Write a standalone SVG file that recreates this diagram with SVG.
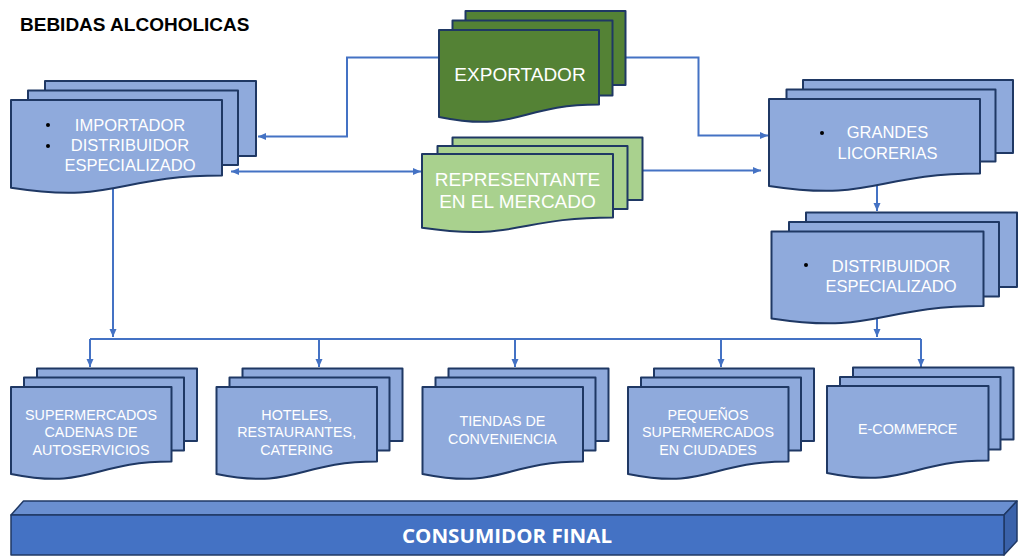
<svg xmlns="http://www.w3.org/2000/svg" width="1027" height="556" viewBox="0 0 1027 556">
<style>
.blue{fill:#8FAADC;stroke:#1F3864;stroke-width:2;stroke-linejoin:round}
.dg{fill:#548235;stroke:#1F3864;stroke-width:2;stroke-linejoin:round}
.lg{fill:#A9D18E;stroke:#1F3864;stroke-width:2;stroke-linejoin:round}
.t{font-family:"Liberation Sans",Arial,sans-serif;fill:#FFFFFF;text-anchor:middle}
.m{font-size:16.5px}
.l{font-size:19px}
.s{font-size:14.3px}
.bul{fill:#000000}
.c{fill:none;stroke:#4472C4;stroke-width:2}
.title{font-family:"Liberation Sans",Arial,sans-serif;font-weight:bold;font-size:19px;fill:#000000}
.bar{stroke:#1F3864;stroke-width:1.5;stroke-linejoin:round}
</style>
<defs>
<marker id="ah" markerUnits="userSpaceOnUse" markerWidth="9" markerHeight="8" refX="8" refY="4" orient="auto-start-reverse">
<path d="M0,0.5 L8,4 L0,7.5 Z" fill="#4472C4"/>
</marker>
</defs>
<rect width="1027" height="556" fill="#FFFFFF"/>
<text class="title" x="20" y="30.5">BEBIDAS ALCOHOLICAS</text>

<g id="connectors">
<path class="c" d="M439,57.5 H347 V136.5 H258" marker-end="url(#ah)"/>
<path class="c" d="M625,57.5 H698.5 V135.5 H768" marker-end="url(#ah)"/>
<path class="c" d="M231,171.5 H421" marker-start="url(#ah)" marker-end="url(#ah)"/>
<path class="c" d="M642,170.5 H761" marker-end="url(#ah)"/>
<path class="c" d="M113,185 V337" marker-end="url(#ah)"/>
<path class="c" d="M877,183 V211" marker-end="url(#ah)"/>
<path class="c" d="M877,310 V337" marker-end="url(#ah)"/>
<path class="c" d="M90,339 H921"/>
<path class="c" d="M90,339 V367" marker-end="url(#ah)"/>
<path class="c" d="M319,339 V367" marker-end="url(#ah)"/>
<path class="c" d="M515,339 V367" marker-end="url(#ah)"/>
<path class="c" d="M721,339 V367" marker-end="url(#ah)"/>
<path class="c" d="M921,339 V367" marker-end="url(#ah)"/>
</g>

<g id="importador">
<rect class="blue" x="45" y="81" width="211" height="75"/>
<rect class="blue" x="28" y="90.5" width="210" height="74.5"/>
<path class="blue" d="M11,100 H222 V175.4 C116.5,175.4 116.5,204 11,187.8 Z"/>
<circle class="bul" cx="48" cy="125" r="2"/>
<circle class="bul" cx="48" cy="146" r="2"/>
<text class="t m" x="130" y="131">IMPORTADOR</text>
<text class="t m" x="130" y="151">DISTRIBUIDOR</text>
<text class="t m" x="130" y="171">ESPECIALIZADO</text>
</g>

<g id="exportador">
<rect class="dg" x="465.5" y="11" width="160" height="74"/>
<rect class="dg" x="452.5" y="20.5" width="160" height="75"/>
<path class="dg" d="M439,30 H599 V104.6 C519,104.6 519,133 439,116.9 Z"/>
<text class="t l" x="520" y="81">EXPORTADOR</text>
</g>

<g id="representante">
<rect class="lg" x="452.5" y="137.5" width="190" height="62.5"/>
<rect class="lg" x="437.5" y="146" width="190" height="63"/>
<path class="lg" d="M422,154 H613 V217.4 C517.5,217.4 517.5,241.5 422,227.8 Z"/>
<text class="t l" x="517.5" y="186">REPRESENTANTE</text>
<text class="t l" x="517.5" y="208">EN EL MERCADO</text>
</g>

<g id="grandes-licorerias">
<rect class="blue" x="803" y="80" width="210" height="73"/>
<rect class="blue" x="786.5" y="89.5" width="209" height="72"/>
<path class="blue" d="M769,99 H980 V173.6 C874.5,173.6 874.5,202 769,185.9 Z"/>
<circle class="bul" cx="822" cy="133" r="2"/>
<text class="t m" x="887.5" y="138">GRANDES</text>
<text class="t m" x="887.5" y="159">LICORERIAS</text>
</g>

<g id="distribuidor-especializado">
<rect class="blue" x="806" y="212.5" width="211" height="74.5"/>
<rect class="blue" x="789" y="222" width="210" height="74.5"/>
<path class="blue" d="M771.5,231.5 H983.5 V306.1 C877.5,306.1 877.5,334.5 771.5,318.4 Z"/>
<circle class="bul" cx="806" cy="265" r="2"/>
<text class="t m" x="891" y="271.5">DISTRIBUIDOR</text>
<text class="t m" x="891" y="291.5">ESPECIALIZADO</text>
</g>

<g id="supermercados">
<rect class="blue" x="37" y="368.5" width="160" height="72.5"/>
<rect class="blue" x="24" y="377.5" width="160" height="73"/>
<path class="blue" d="M11,387 H171.5 V461.6 C91.25,461.6 91.25,490 11,473.9 Z"/>
<text class="t s" x="91" y="419.5">SUPERMERCADOS</text>
<text class="t s" x="91" y="437">CADENAS DE</text>
<text class="t s" x="91" y="454.5">AUTOSERVICIOS</text>
</g>

<g id="hoteles">
<rect class="blue" x="242.5" y="368.5" width="160" height="72.5"/>
<rect class="blue" x="229.5" y="377.5" width="160" height="73"/>
<path class="blue" d="M216.5,387 H377 V461.6 C296.75,461.6 296.75,490 216.5,473.9 Z"/>
<text class="t s" x="296.7" y="419.5">HOTELES,</text>
<text class="t s" x="296.7" y="437">RESTAURANTES,</text>
<text class="t s" x="296.7" y="454.5">CATERING</text>
</g>

<g id="tiendas">
<rect class="blue" x="448.5" y="368.5" width="160" height="72.5"/>
<rect class="blue" x="435.5" y="377.5" width="160" height="73"/>
<path class="blue" d="M422.5,387 H583 V461.6 C502.75,461.6 502.75,490 422.5,473.9 Z"/>
<text class="t s" x="502.5" y="426">TIENDAS DE</text>
<text class="t s" x="502.5" y="443.5">CONVENIENCIA</text>
</g>

<g id="pequenos-supermercados">
<rect class="blue" x="654" y="368.5" width="160" height="72.5"/>
<rect class="blue" x="641" y="377.5" width="160" height="73"/>
<path class="blue" d="M628,387 H788.5 V461.6 C708.25,461.6 708.25,490 628,473.9 Z"/>
<text class="t s" x="708" y="419.5">PEQUEÑOS</text>
<text class="t s" x="708" y="437">SUPERMERCADOS</text>
<text class="t s" x="708" y="454.5">EN CIUDADES</text>
</g>

<g id="ecommerce">
<rect class="blue" x="853" y="367.5" width="160.5" height="72"/>
<rect class="blue" x="840" y="377" width="160.5" height="72.5"/>
<path class="blue" d="M827,386 H988.5 V460.6 C907.75,460.6 907.75,489 827,472.9 Z"/>
<text class="t s" x="907.7" y="434">E-COMMERCE</text>
</g>

<g id="consumidor-final">
<path class="bar" fill="#6A8FD0" d="M11,515 L23.5,501 H1017 L1004,515 Z"/>
<path class="bar" fill="#3A62AA" d="M1004,515 L1017,501 V541 L1004,555 Z"/>
<rect class="bar" fill="#4472C4" x="11" y="515" width="993" height="40"/>
<text x="507" y="543" font-family="'Open Sans',sans-serif" font-weight="bold" font-size="20" fill="#FFFFFF" text-anchor="middle" textLength="210" lengthAdjust="spacingAndGlyphs">CONSUMIDOR FINAL</text>
</g>
</svg>
